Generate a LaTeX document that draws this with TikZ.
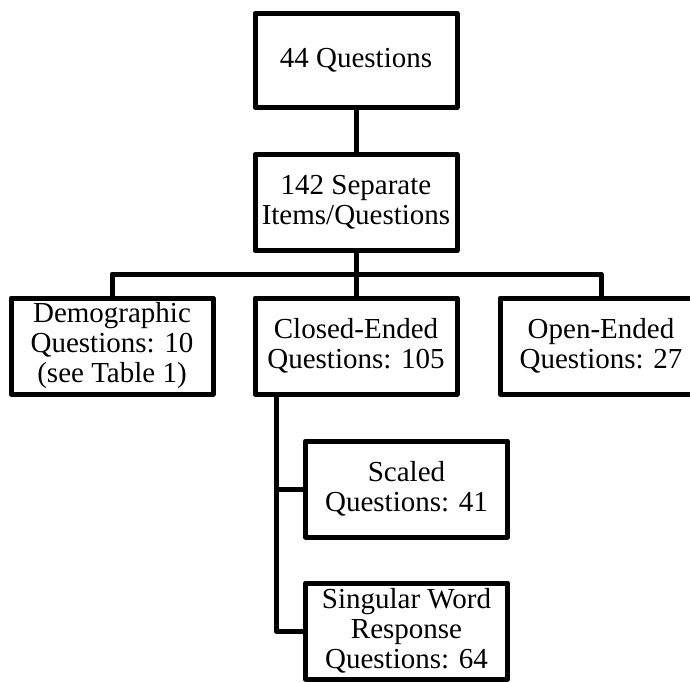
\documentclass[tikz,border=0pt]{standalone}
\usepackage{fontspec}
\setmainfont{Liberation Serif}
\usepackage{tikz}
\usetikzlibrary{positioning}

\begin{document}
\begin{tikzpicture}[
  x=1pt, y=1pt,
  box/.style={draw, line width=5pt, line join=round, fill=white, minimum width=202pt, minimum height=96pt, inner sep=2pt, font=\fontsize{29}{30}\selectfont, align=center},
  link/.style={line width=5pt, line join=round}
]

% ── Canvas ───────────────────────────────────────────────────
\fill[white] (0,0) rectangle (690,-681);
\clip (0,0) rectangle (690,-681);

% ── Top levels ───────────────────────────────────────────────
\node[box, minimum height=94pt] (qs) at (356,-60.5) {44 Questions};
\node[box, below=42pt of qs] (items) {142 Separate\\Items/Questions};

% ── Question types ───────────────────────────────────────────
\node[box] (demo)   at (112,-346) {Demographic\\Questions: 10\\(see Table 1)};
\node[box] (closed) at (356,-346) {Closed-Ended\\Questions: 105};
\node[box] (open)   at (601,-346) {Open-Ended\\Questions: 27};

% ── Closed-ended subtypes ────────────────────────────────────
\node[box] (scaled) at (406.5,-489) {Scaled\\Questions: 41};
\node[box] (single) at (406.5,-631) {Singular Word\\Response\\Questions: 64};

\coordinate (bar)   at (0,-274);
\coordinate (spine) at (276,0);

% ── Connectors ───────────────────────────────────────────────
\draw[link] (qs) -- (items);
\draw[link] (items.south) -- (closed.north);
\draw[link] (demo.north) -- (demo.north |- bar) -- (open.north |- bar) -- (open.north);
\draw[link] (closed.south -| spine) -- (spine |- single.west) -- (single.west);
\draw[link] (spine |- scaled.west) -- (scaled.west);

\end{tikzpicture}
\end{document}
